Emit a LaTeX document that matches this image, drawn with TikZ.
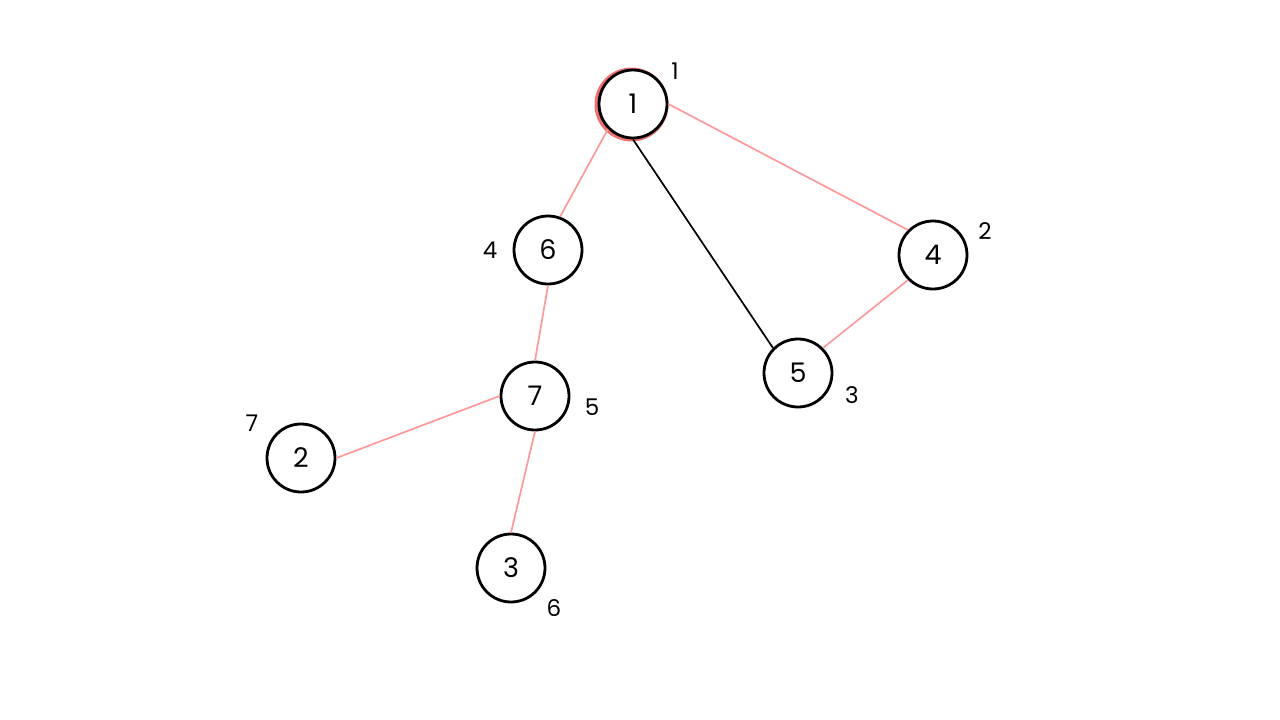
\documentclass[tikz,border=0pt]{standalone}
\usepackage{fontspec}
\setmainfont{Poppins}
\definecolor{edgepink}{HTML}{FF9999}
\definecolor{ringred}{HTML}{F07070}
\begin{document}
\begin{tikzpicture}[x=1pt,y=-1pt,
  vert/.style={circle,draw=black,line width=2.8pt,fill=white,minimum size=68pt,inner sep=0pt,font=\fontsize{27}{27}\selectfont},
  lab/.style={font=\fontsize{23}{23}\selectfont,inner sep=0pt},
  tree/.style={draw=edgepink,line width=1.7pt},
  other/.style={draw=black,line width=1.7pt}]
\useasboundingbox (0,0) rectangle (1280,720);
\fill[ringred] (631.5,104.5) circle (37);
\node[vert] (n1) at (633,104) {1};
\node[vert] (n6) at (548,250) {6};
\node[vert] (n4) at (933,255) {4};
\node[vert] (n5) at (798,373) {5};
\node[vert] (n7) at (535,396) {7};
\node[vert] (n2) at (301,458) {2};
\node[vert] (n3) at (511,568) {3};
\node[lab] (l1) at (675,71) {1};
\node[lab] (l6) at (490,250) {4};
\node[lab] (l4) at (985,231) {2};
\node[lab] (l5) at (852,395) {3};
\node[lab] (l7) at (592,407) {5};
\node[lab] (l2) at (252,423) {7};
\node[lab] (l3) at (554,608) {6};
\path[tree] (n1.south west) -- (n6.70);
\path[other] (n1.south) -- (n5.north west);
\path[tree] (n1.east) -- (n4.north west);
\path[tree] (n4.south west) -- (n5.north east);
\path[tree] (n6.south) -- (n7.north);
\path[tree] (n7.west) -- (n2.east);
\path[tree] (n7.south) -- (n3.north);
\end{tikzpicture}
\end{document}
